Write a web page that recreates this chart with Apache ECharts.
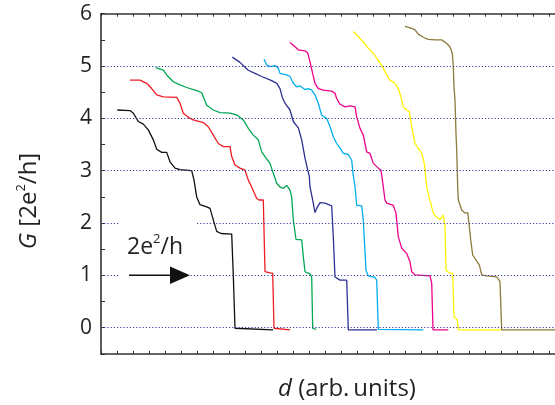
<!DOCTYPE html>
<html><head><meta charset="utf-8">
<script src="https://cdn.jsdelivr.net/npm/echarts@6/dist/echarts.min.js"></script>
<style>html,body{margin:0;padding:0;background:#fff}#c{width:555px;height:405px}</style>
</head><body><div id="c"></div>
<script>
// x in arbitrary units of displacement d, y in units of 2e^2/h
const yTicks = [0, 1, 2, 3, 4, 5, 6];
const gridLevels = [0, 1, 2, 3, 4, 5];
const seriesNames = ['black', 'red', 'green', 'navy', 'cyan', 'magenta', 'yellow', 'olive'];
const seriesColors = ['#111111', '#ed1c24', '#00a651', '#2e3192', '#00aeef', '#ec008c', '#fff200', '#8c7a3c'];

const black = [[16.3,4.16],[29,4.15],[32.3,4.10],[37.3,3.94],[42.3,3.89],[47.3,3.78],[52.3,3.59],[55.7,3.41],[60.7,3.35],[65.7,3.35],[69,3.17],[74,3.05],[79,3.02],[90.7,3.0],[93,2.82],[95.7,2.5],[99,2.35],[105.7,2.31],[109,2.28],[112.3,2.06],[115.7,1.84],[120,1.80],[130.7,1.79],[132.3,1.0],[134,-0.01],[135,-0.04],[172,-0.04]];
const red = [[29,4.73],[39,4.73],[45.7,4.67],[50.7,4.57],[55.7,4.45],[62.3,4.41],[75.7,4.40],[79,4.29],[82.3,4.10],[87.3,4.02],[92.3,3.97],[102.3,3.92],[107.3,3.84],[112.3,3.68],[117.3,3.52],[122.3,3.46],[129,3.46],[130.7,3.27],[134,3.11],[139,3.05],[144,3.01],[147.3,2.82],[150.7,2.69],[155.7,2.47],[158,2.44],[162.3,2.44],[164,1.07],[169,1.05],[171.7,1.04],[173,-0.01],[174,-0.04],[189,-0.04]];
const green = [[54.7,4.97],[62.3,4.92],[65.7,4.83],[72.3,4.70],[79,4.64],[85.7,4.59],[95.7,4.53],[100.7,4.49],[103,4.38],[105.7,4.25],[112.3,4.16],[119,4.11],[129,4.10],[136.3,4.06],[142.3,3.97],[147.3,3.81],[152.3,3.68],[157.3,3.59],[160.7,3.36],[164,3.27],[169,3.14],[172.3,2.95],[175.7,2.76],[179,2.69],[182.3,2.66],[185.7,2.72],[189,2.63],[190.7,2.50],[192.3,2.06],[195,1.69],[200.7,1.68],[202.3,1.36],[204,1.07],[209,1.03],[210.7,0.97],[211.7,-0.01],[215,-0.03]];
const navy = [[131.3,5.17],[139,5.07],[147.3,4.92],[154,4.86],[160.7,4.80],[170.7,4.72],[175.7,4.67],[179,4.57],[181.3,4.40],[184,4.29],[189,4.16],[192.3,3.94],[197.3,3.82],[198.3,3.81],[200.7,3.59],[204,3.24],[206.3,3.05],[208.3,2.89],[209,2.69],[211.7,2.44],[214,2.20],[215.7,2.28],[219,2.39],[224,2.38],[230.7,2.33],[232.3,1.74],[234,0.97],[239,0.91],[245.7,0.91],[247.3,-0.04],[276,-0.04]];
const cyan = [[163,5.13],[165.7,5.02],[169,4.99],[174,5.01],[177.3,4.96],[179,4.86],[185.7,4.83],[189,4.80],[192.3,4.67],[195.7,4.60],[199,4.62],[204,4.55],[207.3,4.57],[210.7,4.54],[214,4.45],[217.3,4.29],[220.7,4.06],[225.7,4.00],[229,3.84],[232.3,3.65],[235.7,3.52],[239,3.43],[242.3,3.33],[247.3,3.31],[250.7,3.20],[252,2.95],[254,2.69],[255.7,2.34],[260.7,2.33],[262.3,2.06],[265,1.10],[267.3,0.99],[274,0.96],[275.7,0.91],[277.3,-0.03],[322.3,-0.04]];
const magenta = [[189,5.45],[194,5.37],[197.3,5.31],[204,5.29],[206.7,5.25],[209,5.08],[211.3,4.89],[214,4.67],[217.3,4.57],[222.3,4.54],[230.7,4.52],[234,4.48],[235.7,4.38],[239,4.27],[244,4.22],[249,4.24],[254,4.22],[255.7,4.03],[259,3.81],[262.3,3.68],[264,3.52],[265.7,3.36],[269,3.33],[272.3,3.14],[277.3,3.05],[280,3.01],[282.3,2.69],[284,2.44],[285.7,2.38],[292.3,2.34],[295,2.19],[297.3,1.74],[300.7,1.52],[305.7,1.42],[309,1.26],[310.7,1.07],[314,1.01],[329,0.99],[330.7,0.85],[332,-0.04],[347.3,-0.04]];
const yellow = [[252.3,5.66],[257.3,5.56],[262.3,5.46],[267.3,5.34],[272.3,5.24],[277.3,5.11],[282.3,4.96],[285.7,4.83],[289,4.73],[294,4.67],[297.3,4.57],[300,4.41],[302.3,4.22],[305.7,4.16],[308.3,4.13],[310.7,3.84],[314,3.52],[317.3,3.43],[320.7,3.33],[323.3,3.14],[325.7,2.69],[328,2.50],[332.3,2.19],[335.7,2.11],[339,2.07],[342.3,2.15],[344,1.93],[345,1.10],[348.3,1.05],[351.7,1.04],[353,0.21],[356.3,0.15],[357.3,-0.04],[400.7,-0.04]];
const olive = [[304,5.76],[310.7,5.72],[314,5.69],[317.3,5.61],[322.3,5.55],[327.3,5.51],[334,5.50],[340.7,5.50],[345.7,5.43],[349,5.37],[351.3,5.24],[352.3,4.99],[353,4.60],[354,4.35],[355,3.70],[355.7,3.40],[356.7,2.69],[357.3,2.44],[360.7,2.25],[364,2.19],[366.7,2.20],[368,1.99],[369.7,1.68],[371.7,1.39],[375,1.29],[378.3,1.20],[380.7,1.01],[385.7,0.99],[395.7,0.97],[399,0.88],[400.7,-0.04],[454,-0.04]];
const allData = [black, red, green, navy, cyan, magenta, yellow, olive];

const FONT = '"Open Sans", "Noto Sans", sans-serif';
const TXT = '#231f20';
const axisColor = '#333333';

const chart = echarts.init(document.getElementById('c'), null, {renderer: 'canvas'});

const series = allData.map((d, i) => ({
  name: seriesNames[i],
  type: 'line',
  data: d,
  showSymbol: false,
  symbol: 'none',
  clip: true,
  lineStyle: {color: seriesColors[i], width: 1.3},
  z: 3,
  silent: true,
  animation: false
}));
// dotted reference lines at integer conductance levels
series.push({
  type: 'line',
  data: [],
  silent: true,
  z: 2,
  markLine: {
    silent: true,
    symbol: ['none', 'none'],
    label: {show: false},
    animation: false,
    lineStyle: {color: '#3d3f9c', type: [1.2, 2], width: 1},
    data: gridLevels.map(v => ({yAxis: v}))
  }
});

const xCommon = {
  type: 'value', min: 0, max: 454, interval: 16,
  axisLine: {show: true, onZero: false, lineStyle: {color: axisColor, width: 1.6}},
  axisTick: {show: true, inside: true, length: 3, lineStyle: {color: axisColor, width: 1}},
  axisLabel: {show: false},
  splitLine: {show: false}
};

chart.setOption({
  animation: false,
  backgroundColor: '#fff',
  grid: {left: 101, right: 0, top: 13.7, bottom: 51.1, containLabel: false},
  xAxis: [
    Object.assign({position: 'bottom'}, xCommon),
    Object.assign({position: 'top'}, xCommon)
  ],
  yAxis: {
    type: 'value', min: -0.5, max: 6, interval: 0.5,
    axisLine: {show: true, onZero: false, lineStyle: {color: axisColor, width: 1.6}},
    axisTick: {show: true, inside: true, length: 4, lineStyle: {color: axisColor, width: 1}},
    axisLabel: {
      show: true, margin: 9, color: TXT, fontFamily: FONT, fontSize: 21,
      formatter: v => (yTicks.indexOf(v) >= 0 ? String(v) : '')
    },
    splitLine: {show: false}
  },
  series: series,
  graphic: [
    {type: 'rect', z: 100, shape: {x: 120, y: 219, width: 76, height: 8}, style: {fill: '#fff'}},
    {type: 'rect', z: 100, shape: {x: 120, y: 272, width: 70, height: 6}, style: {fill: '#fff'}},
    {type: 'line', z: 101, shape: {x1: 129, y1: 275.3, x2: 172, y2: 275.3}, style: {stroke: '#111', lineWidth: 1.5}},
    {type: 'polygon', z: 101, shape: {points: [[170, 266.5], [190, 275.3], [170, 284]]}, style: {fill: '#111'}},
    {type: 'text', z: 101, left: 127, top: 233,
      style: {text: '2e{s|2}/h', fill: TXT, font: '23px ' + FONT,
        rich: {s: {fontSize: 13, fontFamily: FONT, fill: TXT, verticalAlign: 'top', lineHeight: 28}}}},
    {type: 'text', z: 101, x: 347, y: 389,
      style: {text: '{i|d} (arb.\u2009units)', fill: TXT, font: '24px ' + FONT, align: 'center', verticalAlign: 'middle',
        rich: {i: {fontStyle: 'italic', fontSize: 24, fontFamily: FONT, fill: TXT}}}},
    {type: 'text', z: 101, x: 29, y: 201, rotation: Math.PI / 2,
      style: {text: '{i|G} [2e{s|2}/h]', fill: TXT, font: '24px ' + FONT, align: 'center', verticalAlign: 'middle',
        rich: {i: {fontStyle: 'italic', fontSize: 24, fontFamily: FONT, fill: TXT},
               s: {fontSize: 13, fontFamily: FONT, fill: TXT, verticalAlign: 'top', lineHeight: 28}}}}
  ]
});
</script></body></html>
